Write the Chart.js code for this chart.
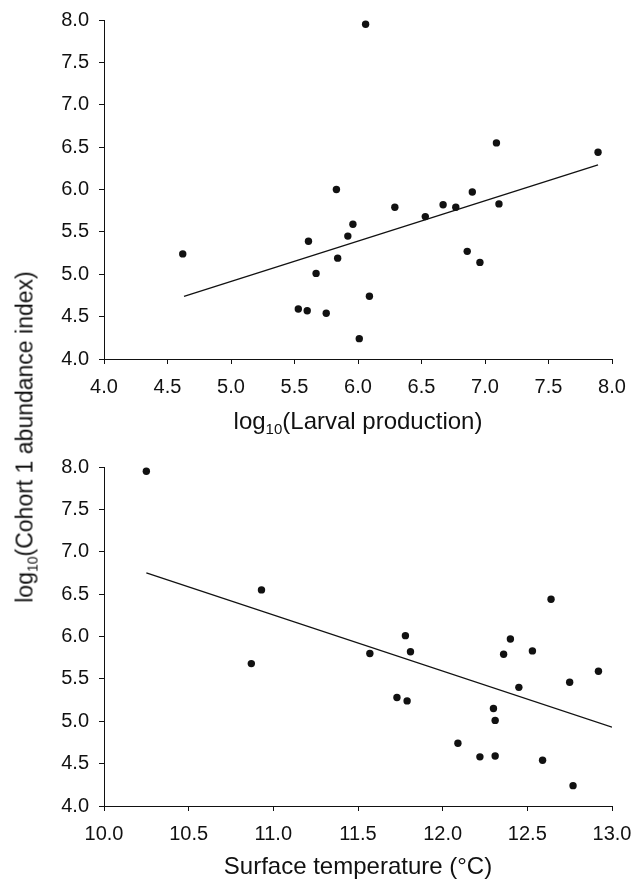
<!DOCTYPE html>
<html>
<head>
<meta charset="utf-8">
<script src="https://cdn.jsdelivr.net/npm/chart.js@4.4.1/dist/chart.umd.min.js"></script>
<style>
  body { margin: 0; background: #fff; font-family: "Liberation Sans", Arial, sans-serif; color: #111; }
  #wrap { position: relative; width: 636px; height: 886px; overflow: hidden; }
  canvas { position: absolute; left: 0; }
  .title { position: absolute; font-size: 24px; line-height: 24px; white-space: nowrap; text-align: center; }
  .title sub { font-size: 15px; vertical-align: -5px; line-height: 0; }
  #ylab { position: absolute; font-size: 23px; line-height: 23px; white-space: nowrap;
          left: 25px; top: 437px; transform: translate(-50%, -50%) rotate(-90deg); }
  #ylab sub { font-size: 14px; vertical-align: -5px; line-height: 0; }
</style>
</head>
<body>
<div id="wrap">
  <canvas id="topChart" width="636" height="440" style="top:0"></canvas>
  <canvas id="botChart" width="636" height="446" style="top:440px"></canvas>
  <div class="title" style="left:104px; width:508px; top:409px;">log<sub>10</sub>(Larval production)</div>
  <div class="title" style="left:104px; width:508px; top:854px;">Surface temperature (°C)</div>
  <div id="ylab">log<sub>10</sub>(Cohort 1 abundance index)</div>
</div>
<script>
// top panel: larval production vs cohort 1 abundance
const larvalX = [4.62, 5.53, 5.60, 5.61, 5.67, 5.75, 5.83, 5.84, 5.92, 5.96, 6.01, 6.06,
                 6.09, 6.29, 6.53, 6.67, 6.77, 6.86, 6.90, 6.96, 7.09, 7.11, 7.89];
const larvalY = [5.24, 4.59, 4.57, 5.39, 5.01, 4.54, 6.00, 5.19, 5.45, 5.59, 4.24, 7.95,
                 4.74, 5.79, 5.68, 5.82, 5.79, 5.27, 5.97, 5.14, 6.55, 5.83, 6.44];
const larvalFitX = [4.63, 7.89];
const larvalFitY = [4.74, 6.29];

// bottom panel: surface temperature vs cohort 1 abundance
const tempX = [10.25, 10.87, 10.93, 11.57, 11.73, 11.78, 11.79, 11.81, 12.09, 12.22, 12.30,
               12.31, 12.31, 12.36, 12.40, 12.45, 12.53, 12.59, 12.64, 12.75, 12.77, 12.92];
const tempY = [7.95, 5.68, 6.55, 5.80, 5.28, 6.01, 5.24, 5.82, 4.74, 4.58, 5.15,
               5.01, 4.59, 5.79, 5.97, 5.40, 5.83, 4.54, 6.44, 5.46, 4.24, 5.59];
const tempFitX = [10.25, 13.0];
const tempFitY = [6.75, 4.93];

const yTicks = [4.0, 4.5, 5.0, 5.5, 6.0, 6.5, 7.0, 7.5, 8.0];
const larvalTicks = [4.0, 4.5, 5.0, 5.5, 6.0, 6.5, 7.0, 7.5, 8.0];
const tempTicks = [10.0, 10.5, 11.0, 11.5, 12.0, 12.5, 13.0];

const toPts = (xs, ys) => xs.map((x, i) => ({ x: x, y: ys[i] }));
const ink = "#111";
const tickFont = { family: "Liberation Sans, Arial, sans-serif", size: 20 };

function axis(ticks, extra) {
    return Object.assign({
        type: "linear",
        min: ticks[0],
        max: ticks[ticks.length - 1],
        afterBuildTicks: s => { s.ticks = ticks.map(v => ({ value: v })); },
        grid: { drawOnChartArea: false, drawTicks: true, tickLength: 5, color: ink, lineWidth: 1 },
        border: { display: true, color: ink, width: 1 }
    }, extra);
}

function makeChart(id, xs, ys, fx, fy, xTicks, topPad, xAxisH) {
    const ctx = document.getElementById(id).getContext("2d");
    return new Chart(ctx, {
        type: "scatter",
        data: {
            datasets: [{
                data: toPts(xs, ys),
                pointRadius: 3.7,
                pointBackgroundColor: ink,
                pointBorderWidth: 0
            }, {
                data: toPts(fx, fy),
                showLine: true,
                pointRadius: 0,
                borderColor: ink,
                borderWidth: 1.3
            }]
        },
        options: {
            responsive: false,
            animation: false,
            layout: { padding: { top: topPad, right: 24, left: 0, bottom: 0 } },
            plugins: { legend: { display: false }, tooltip: { enabled: false } },
            scales: {
                x: axis(xTicks, {
                    position: "bottom",
                    afterFit: s => { s.height = xAxisH; s.paddingLeft = 0; s.paddingRight = 0; },
                    ticks: { color: ink, font: tickFont, padding: 11, maxRotation: 0,
                             callback: v => Number(v).toFixed(1) }
                }),
                y: axis(yTicks, {
                    position: "left",
                    afterFit: s => { s.width = 104; s.paddingTop = 0; s.paddingBottom = 0; },
                    ticks: { color: ink, font: tickFont, padding: 10,
                             callback: v => Number(v).toFixed(1) }
                })
            }
        }
    });
}

makeChart("topChart", larvalX, larvalY, larvalFitX, larvalFitY, larvalTicks, 20, 81);
makeChart("botChart", tempX, tempY, tempFitX, tempFitY, tempTicks, 27, 80);
</script>
</body>
</html>
